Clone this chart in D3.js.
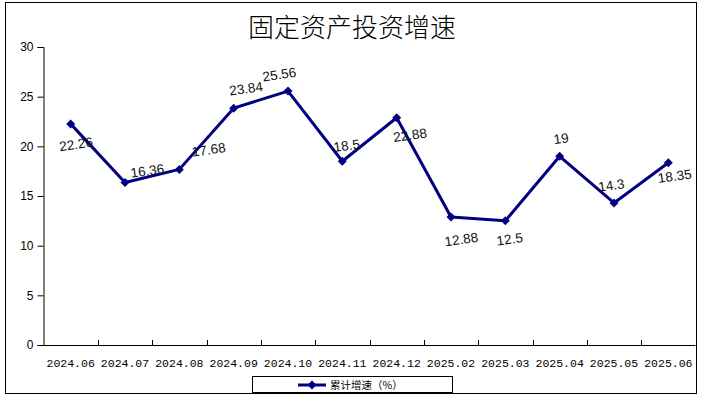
<!DOCTYPE html>
<html><head><meta charset="utf-8">
<script src="https://cdn.jsdelivr.net/npm/d3@7"></script>
<style>body{margin:0;background:#fff}svg{display:block}</style>
</head><body>
<script>
const categories = ["2024.06","2024.07","2024.08","2024.09","2024.10","2024.11","2024.12","2025.02","2025.03","2025.04","2025.05","2025.06"];
const values = [22.26,16.36,17.68,23.84,25.56,18.5,22.88,12.88,12.5,19,14.3,18.35];
const yTicks = [0,5,10,15,20,25,30];
const title = "固定资产投资增速";
const seriesName = "累计增速（%）";
// label offsets relative to point (layout only)
const labelOffsets = [[6,20],[23,-12],[30,-20],[13,-20],[-8,-17],[5,-16],[14,17],[11,22],[5,18],[2,-18],[-2,-18],[7,13]];

const W=705,H=402;
const svg=d3.select("body").append("svg").attr("width",W).attr("height",H);
svg.append("rect").attr("x",5.5).attr("y",2.5).attr("width",691).attr("height",391).attr("fill","#fff").attr("stroke","#000").attr("stroke-width",1);

svg.append("text").attr("x",352).attr("y",37).attr("text-anchor","middle")
  .attr("font-family","'Noto Sans CJK SC'").attr("font-weight",300).attr("font-size",26).attr("fill","#000").text(title);

const L=43.5,R=695.5,T=47,B=345;
const x=d3.scaleBand().domain(categories).range([L,R]);
const y=d3.scaleLinear().domain([0,30]).range([B,T]);

// y axis
const ya=svg.append("g").attr("transform",`translate(${L},0)`)
  .call(d3.axisLeft(y).tickValues(yTicks).tickSize(6).tickPadding(4));
ya.select(".domain").attr("stroke","#000");
ya.selectAll(".tick line").attr("stroke","#000");
ya.selectAll("text").attr("font-family","Arial, 'Liberation Sans'").attr("font-size",12).attr("fill","#000");

// x axis
const xg=svg.append("g");
xg.append("line").attr("x1",L).attr("x2",R).attr("y1",B+0.5).attr("y2",B+0.5).attr("stroke","#000");
const bounds=categories.map(c=>x(c)+x.bandwidth());
xg.selectAll("line.t").data(bounds).join("line").attr("class","t")
  .attr("x1",d=>Math.round(d)+0.5).attr("x2",d=>Math.round(d)+0.5).attr("y1",B).attr("y2",B-5).attr("stroke","#000");
xg.selectAll("text").data(categories).join("text")
  .attr("x",d=>x(d)+x.bandwidth()/2).attr("y",367).attr("text-anchor","middle")
  .attr("font-family","'Liberation Mono', 'DejaVu Sans Mono', monospace").attr("font-size",11.5).attr("fill","#000").text(d=>d);

// line
const data=categories.map((c,i)=>({c,v:values[i]}));
const px=d=>x(d.c)+x.bandwidth()/2;
svg.append("path").datum(data)
  .attr("d",d3.line().x(px).y(d=>y(d.v)))
  .attr("fill","none").attr("stroke","#000080").attr("stroke-width",3).attr("stroke-linejoin","round");
const diamond="M0,-4.5L4.5,0L0,4.5L-4.5,0Z";
svg.selectAll("path.m").data(data).join("path").attr("class","m")
  .attr("transform",d=>`translate(${px(d)},${y(d.v)})`).attr("d",diamond).attr("fill","#000080");

// labels
svg.selectAll("text.lbl").data(data).join("text").attr("class","lbl")
  .attr("transform",(d,i)=>`translate(${px(d)+labelOffsets[i][0]},${y(d.v)+labelOffsets[i][1]+5}) rotate(-8)`)
  .attr("text-anchor","middle").attr("font-family","Arial, 'Liberation Sans'").attr("font-size",13.5).attr("fill","#111")
  .text(d=>d.v);

// legend
const lg=svg.append("g");
lg.append("rect").attr("x",252.5).attr("y",376.5).attr("width",200).attr("height",16).attr("fill","#fff").attr("stroke","#000");
lg.append("line").attr("x1",298).attr("x2",326).attr("y1",385).attr("y2",385).attr("stroke","#000080").attr("stroke-width",3);
lg.append("path").attr("transform","translate(312,385)").attr("d",diamond).attr("fill","#000080");
lg.append("text").attr("x",330).attr("y",389).attr("font-family","'Noto Sans CJK SC'").attr("font-size",10.5).attr("fill","#000").text(seriesName);
</script>
</body></html>
